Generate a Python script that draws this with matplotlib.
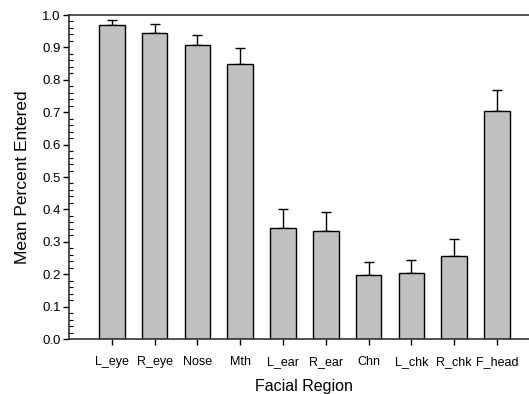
import numpy as np
import matplotlib.pyplot as plt

# --- DATA ---
regions = ["L_eye", "R_eye", "Nose", "Mth", "L_ear", "R_ear", "Chn", "L_chk", "R_chk", "F_head"]
means = [0.970, 0.945, 0.907, 0.848, 0.342, 0.332, 0.198, 0.205, 0.256, 0.705]
errs = [0.015, 0.027, 0.032, 0.051, 0.058, 0.060, 0.039, 0.040, 0.054, 0.064]
yticks = [0.0, 0.1, 0.2, 0.3, 0.4, 0.5, 0.6, 0.7, 0.8, 0.9, 1.0]

plt.rcParams["font.family"] = ["Liberation Sans", "DejaVu Sans"]

W, H = 529, 394
fig = plt.figure(figsize=(W / 100, H / 100), dpi=100)
# right side is cut off in the original, so the axes runs past the figure edge
ax_w = 470
ax = fig.add_axes([69 / W, 55 / H, ax_w / W, 324 / H])

x = np.arange(1, len(regions) + 1)
ax.bar(x, means, width=0.6, color="#c0c0c0", edgecolor="black", linewidth=1, zorder=2)
ax.errorbar(x, means, yerr=[np.zeros(len(errs)), errs], fmt="none",
            ecolor="black", elinewidth=1, capsize=3.6, capthick=1, zorder=1)

ax.set_xlim(0, ax_w / 42.8)
ax.set_ylim(0, 1.0)

ax.set_xticks(x)
ax.set_xticklabels(regions, fontsize=9)
ax.set_yticks(yticks)
ax.set_yticklabels([f"{v:.1f}" for v in yticks], fontsize=9.5)
ax.set_yticks(np.arange(0, 1.001, 0.02), minor=True)

ax.tick_params(axis="y", which="major", direction="out", length=4, width=1, pad=2)
ax.tick_params(axis="y", which="minor", direction="in", length=3, width=0.8)
ax.tick_params(axis="x", which="major", direction="out", length=4, width=1, pad=8)

for s in ["left", "bottom", "top"]:
    ax.spines[s].set_linewidth(1.2)
    ax.spines[s].set_color("#333333")
ax.spines["right"].set_visible(False)

ax.set_ylabel("Mean Percent Entered", fontsize=12.5, labelpad=9)
ax.set_xlabel("Facial Region", fontsize=11.5, labelpad=8)

fig.savefig("out.png", dpi=100)
